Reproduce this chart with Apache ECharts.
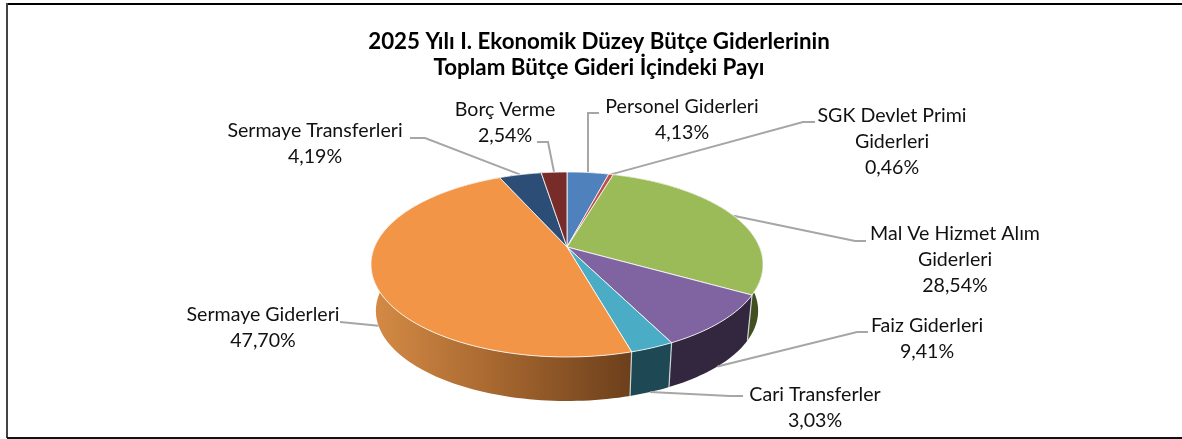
<!DOCTYPE html>
<html><head><meta charset="utf-8">
<style>html,body{margin:0;padding:0;background:#fff}#c{width:1182px;height:439px}</style>
<script src="https://cdn.jsdelivr.net/npm/echarts@6/dist/echarts.min.js"></script>
</head><body><div id="c"></div>
<script>
const categories = ['Personel Giderleri','SGK Devlet Primi\nGiderleri','Mal Ve Hizmet Alım\nGiderleri','Faiz Giderleri','Cari Transferler','Sermaye Giderleri','Sermaye Transferleri','Borç Verme'];
const shares = [4.13,0.46,28.54,9.41,3.03,47.70,4.19,2.54];
const topColors = ['#4F81BD','#C0504D','#9BBB59','#8064A2','#4BACC6','#F39547','#2C4D75','#772C2A'];
const sideColors = ['#2C4D75','#772C2A','#414F22','#33273F','#1E4854','orange','#1A2F47','#4A1B1A'];
const labelCenters = [[682,120],[892,142],[955,260],[927,339],[815,408],[263,328],[315,144],[505,123]];
const leaderElbows = [[[588,113],[599,113]],[[803,122],[815,122]],[[855,241],[866,241]],[[857,332],[868,332]],[[730,396],[743,396]],[[340,322]],[[425,138],[410,138]],[[548,142],[537,142]]];
const chartTitle = '2025 Yılı I. Ekonomik Düzey Bütçe Giderlerinin\nToplam Bütçe Gideri İçindeki Payı';

const P = {cx:567, cy:247, B:192.5, A:89.2, k:0.189, depth:46.75, shrink:0.975};
const total = shares.reduce((a,b)=>a+b,0);
function startShare(i){let s=0;for(let j=0;j<i;j++)s+=shares[j];return s;}
function project(deg, lower){
  const r=deg*Math.PI/180,u=Math.sin(r),v=-Math.cos(r),d=1-P.k*v;
  const s=lower?P.shrink:1;
  return [P.cx+s*P.B*u/d, P.cy+(lower?P.depth:0)+s*P.A*v/d];
}
function arc(a0,a1,lower){
  const n=Math.max(2,Math.ceil(Math.abs(a1-a0)/1.5)),pts=[];
  for(let i=0;i<=n;i++)pts.push(project(a0+(a1-a0)*i/n,lower));
  return pts;
}
function angles(i,val){const a0=startShare(i)/total*360;return [a0,a0+val/total*360];}
const orangeSide=new echarts.graphic.LinearGradient(375,0,632,0,[
  {offset:0,color:'#D48A45'},{offset:0.5,color:'#A3652E'},{offset:1,color:'#6C3F1B'}],true);

function renderSide(p,api){
  const i=p.dataIndex,[a0,a1]=angles(i,api.value(0));
  const up=arc(a0,a1,false),lo=arc(a0,a1,true).reverse();
  const fill=sideColors[i]==='orange'?orangeSide:sideColors[i];
  const kids=[{type:'polygon',shape:{points:up.concat(lo)},style:{fill:fill,stroke:null}}];
  const r=a0*Math.PI/180;
  if(-Math.cos(r)>0.2) kids.push({type:'polyline',z2:5,shape:{points:[project(a0,false),project(a0,true)]},style:{fill:null,stroke:'#CFD3D6',lineWidth:1.2}});
  return {type:'group',children:kids};
}
function renderTop(p,api){
  const i=p.dataIndex,[a0,a1]=angles(i,api.value(0));
  const pts=[[P.cx,P.cy]].concat(arc(a0,a1,false));
  return {type:'polygon',shape:{points:pts},style:{fill:topColors[i],stroke:'rgba(255,255,255,0.8)',lineWidth:1}};
}
function renderLabel(p,api){
  const i=p.dataIndex,[a0,a1]=angles(i,api.value(0)),mid=(a0+a1)/2;
  const front=-Math.cos(mid*Math.PI/180)>0;
  const pts=[project(mid,front)].concat(leaderElbows[i]);
  const txt=categories[i]+'\n'+api.value(0).toFixed(2).replace('.',',')+'%';
  return {type:'group',children:[
    {type:'polyline',shape:{points:pts},style:{fill:null,stroke:'#A6A6A6',lineWidth:2}},
    {type:'text',style:{text:txt,x:labelCenters[i][0],y:labelCenters[i][1],align:'center',verticalAlign:'middle',
      fill:'#111',font:'19.6px Lato',lineHeight:26}}
  ]};
}
const chart=echarts.init(document.getElementById('c'),null,{renderer:'canvas'});
chart.setOption({
  animation:false,
  backgroundColor:'#fff',
  title:{text:chartTitle,left:594,top:24,textAlign:'center',textStyle:{fontFamily:'Lato',fontWeight:'bold',fontSize:22.3,lineHeight:26,color:'#000'}},
  graphic:[
    {type:'line',shape:{x1:7,y1:4,x2:1182,y2:4},style:{stroke:'#000',lineWidth:2}},
    {type:'line',shape:{x1:7,y1:3,x2:7,y2:438},style:{stroke:'#444',lineWidth:2}},
    {type:'line',shape:{x1:7,y1:438,x2:1182,y2:438},style:{stroke:'#111',lineWidth:2}}
  ],
  series:[
    {type:'custom',coordinateSystem:'none',renderItem:renderSide,data:shares,z:1,silent:true},
    {type:'custom',coordinateSystem:'none',renderItem:renderLabel,data:shares,z:2,silent:true},
    {type:'custom',coordinateSystem:'none',renderItem:renderTop,data:shares,z:3,silent:true}
  ]
});
</script></body></html>
